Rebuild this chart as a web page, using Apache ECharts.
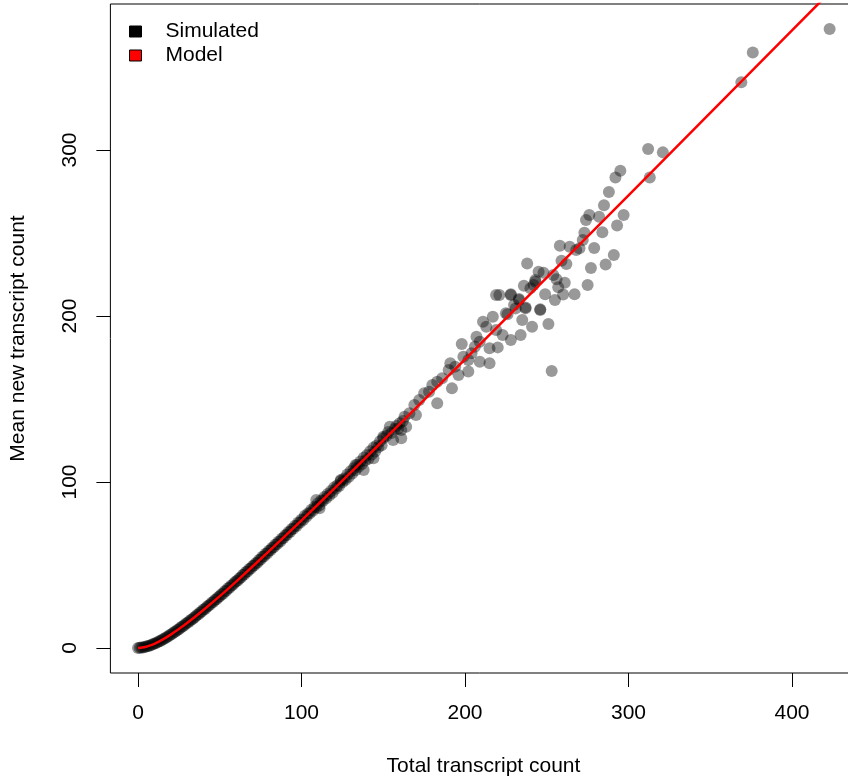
<!DOCTYPE html>
<html>
<head>
<meta charset="utf-8">
<script src="https://cdn.jsdelivr.net/npm/echarts@6/dist/echarts.min.js"></script>
<style>
  html, body { margin: 0; padding: 0; background: #fff; }
  #chart { width: 848px; height: 778px; }
</style>
</head>
<body>
<div id="chart"></div>
<script>
// simulated points, dense part along the curve (total count, mean new count)
var simulatedBand = [
  [0,0],[1,0.1],[2,0.3],[3,0.2],[4,0.6],[5,0.8],[6,1.1],[7,1.3],[8,1.7],[9,2.2],[10,2.6],[11,2.9],[12,3.5],[13,4.0],[14,4.4],
  [15,5.1],[16,5.5],[17,6.2],[18,6.8],[19,7.3],[20,8.1],[21,8.6],[22,9.4],[23,9.9],[24,10.8],[25,11.2],[26,12.1],[27,12.9],
  [28,13.4],[29,14.4],[30,15.1],[31,15.6],[32,16.7],[33,17.2],[34,18.1],[35,18.8],[36,19.8],[37,20.3],[38,21.4],[39,21.9],
  [40,23.1],[41,23.5],[42,24.6],[43,25.4],[44,26.0],[45,27.3],[46,27.7],[47,28.9],[48,29.3],[49,30.6],[50,31.1],[51,32.4],
  [52,32.7],[53,34.1],[54,34.5],[55,35.9],[56,36.2],[57,37.6],[58,38.0],[59,39.3],[60,40.2],[61,40.7],[62,42.0],[63,42.4],
  [64,43.9],[65,44.2],[66,45.7],[67,46.0],[68,47.5],[69,47.8],[70,49.3],[71,49.7],[72,51.1],[73,51.4],[74,53.0],[75,53.3],
  [76,54.9],[77,55.1],[78,56.7],[79,56.9],[80,58.5],[81,58.8],[82,60.4],[83,60.6],[84,62.3],[85,62.5],[86,64.2],[87,64.2],
  [88,66.0],[89,66.3],[90,67.9],[91,68.0],[92,69.8],[93,69.9],[94,71.7],[95,71.8],[96,73.6],[97,73.4],[98,75.6],[99,75.5],
  [100,77.4],[101,77.1],[102,79.6],[103,79.0],[104,81.2],[105,81.0],[106,83.3],[107,82.6],[108,85.1],[109,84.6],[110,87.2],
  [111,86.0],[112,88.9],[113,88.5],[114,90.9],[115,90.0],[116,92.7],[117,91.8],[118,94.6],[119,93.5],[120,96.8],[121,95.9],
  [122,98.0],[123,97.5],[124,100.6],[125,99.8],[126,102.1],[127,101.3],[128,104.5],[129,103.2],[130,106.5],[131,105.1],
  [132,108.2],[133,107.0],[134,110.3],[135,109.2],[136,112.4],[137,110.8],[138,114.6],[139,112.9],[140,116.2],[141,114.0],
  [142,118.5],[143,116.6],[144,120.7],[145,118.4],[146,122.0],[147,120.9],[148,124.6],[149,122.1],[150,126.3],
  [152,127.8],[153,130.1],[155,129.5],[157,131.9],[158,133.8],[159,132.0],[160,135.4],[162,136.8],
  [154,133.3],[156,125.3],[150,127.3],[144,114.3],[138,107.2],[133,110.2],[124,101.2],[109,89.2],[111,84.1]
];

// simulated points, scattered upper part
var simulatedScatter = [
  [161,126.3],[161,131.3],[164,133.3],[163,139.3],[166,141.4],[170,140.4],[169,146.4],[172,149.4],[183,147.4],[175,153.4],
  [178,154.4],[180,158.4],[183,160.4],[192,156.4],[186,162.5],[196,164.5],[202,166.5],[190,167.5],[194,169.5],[191,171.5],
  [215,171.5],[209,172.5],[202,173.5],[199,175.5],[204,177.5],[206,181.5],[220,181.1],[215,180.5],[198,183.1],[209,184.5],
  [207,187.5],[228,185.5],[234,188.6],[223,188.6],[219,191.6],[213,193.6],[241,193.6],[251,195.2],[235,197.6],[211,196.6],
  [217,199.6],[246,203.6],[226,201.0],[231,204.6],[237,204.6],[233,209.6],[219,212.7],[228,212.7],[240,216.7],[243,220.7],
  [253,166.9],
  [423,372.9],[376,358.8],[369,340.8],[312,300.6],[321,298.6],[313,283.5],[295,287.5],[292,283.5],[288,274.7],[285,266.7],
  [297,260.8],[293,254.6],[276,260.8],[274,257.8],[282,259.8],[273,250.2],[284,250.4],[272,245.8],[279,241.0],[270,240.8],
  [264,241.8],[258,242.4],[268,239.8],[291,236.7],[286,231.1],[277,228.9],[259,233.3],[262,231.3],[238,231.7],[245,226.7],
  [248,226.1],[254,224.7],[256,222.1],[261,220.1],[275,218.7],[243,221.7],[236,218.3],[242,218.7],[257,217.3],[249,213.1],
  [260,212.9],[267,213.1],[255,209.6],[228,213.1],[233,210.2],[246,204.0],[237,205.2],[230,206.6],[225,201.6],[221,212.7]
];

// model curve
var modelX = [0, 2.5, 5, 7.5, 10, 15, 20, 25, 30, 40, 50, 60, 80, 100, 120, 150, 200, 250, 300, 350, 400, 440];
var modelY = [0, 0.2, 0.7, 1.5, 2.5, 5.0, 8.0, 11.4, 15.0, 22.9, 31.2, 40.0, 58.2, 76.9, 96.0, 125.0, 173.9, 223.2, 272.7, 322.4, 372.1, 411.9];

var xTicks = [0, 400, 100];
var yTicks = [0, 300, 100];

var FONT = '"Liberation Sans", Arial, sans-serif';
var chart = echarts.init(document.getElementById('chart'), null, {renderer: 'canvas'});

var modelData = modelX.map(function (x, i) { return [x, modelY[i]]; });
var simulated = simulatedBand.concat(simulatedScatter);

var option = {
    animation: false,
    backgroundColor: '#fff',
    textStyle: {fontFamily: FONT},
    legend: {
        left: 129,
        top: 21,
        padding: 0,
        orient: 'vertical',
        itemWidth: 12,
        itemHeight: 11,
        itemGap: 3,
        icon: 'rect',
        textStyle: {fontSize: 21, color: '#000', fontFamily: FONT, padding: [0, 0, 0, 19]},
        data: [
            {name: 'Simulated', itemStyle: {color: '#000', opacity: 1, borderColor: '#000', borderWidth: 1}},
            {name: 'Model', itemStyle: {color: '#ff0000', opacity: 1, borderColor: '#000', borderWidth: 1}}
        ]
    },
    grid: [
        // plot box (right edge falls outside the canvas)
        {left: 110.4, top: 4, width: 746.2, height: 669, outerBoundsMode: 'none', containLabel: false,
         show: true, borderColor: '#000', borderWidth: 1, backgroundColor: 'transparent'},
        // x tick axis (0..400)
        {left: 138, top: 4, width: 654, height: 669, outerBoundsMode: 'none', containLabel: false, show: false},
        // y tick axis (0..300)
        {left: 110.4, top: 150, width: 746.2, height: 498, outerBoundsMode: 'none', containLabel: false, show: false}
    ],
    xAxis: [
        {
            gridIndex: 0, type: 'value', min: -16.9, max: 439.5,
            axisLine: {show: false}, axisTick: {show: false}, axisLabel: {show: false}, splitLine: {show: false},
            name: 'Total transcript count', nameLocation: 'middle', nameGap: 83,
            nameTextStyle: {fontSize: 21, color: '#000', fontFamily: FONT}
        },
        {
            gridIndex: 1, type: 'value', min: xTicks[0], max: xTicks[1], interval: xTicks[2],
            axisLine: {show: false},
            axisTick: {show: true, inside: false, length: 14, lineStyle: {color: '#000', width: 1}},
            axisLabel: {fontSize: 21, color: '#000', margin: 30, fontFamily: FONT},
            splitLine: {show: false}
        },
        {gridIndex: 2, type: 'value', min: 0, max: 1, show: false}
    ],
    yAxis: [
        {
            gridIndex: 0, type: 'value', min: -15.1, max: 388,
            axisLine: {show: false}, axisTick: {show: false}, axisLabel: {show: false}, splitLine: {show: false},
            name: 'Mean new transcript count', nameLocation: 'middle', nameGap: 82,
            nameTextStyle: {fontSize: 21, color: '#000', fontFamily: FONT}
        },
        {gridIndex: 1, type: 'value', min: 0, max: 1, show: false},
        {
            gridIndex: 2, type: 'value', min: yTicks[0], max: yTicks[1], interval: yTicks[2],
            axisLine: {show: false},
            axisTick: {show: true, inside: false, length: 14, lineStyle: {color: '#000', width: 1}},
            axisLabel: {fontSize: 21, color: '#000', margin: 30, rotate: 90, fontFamily: FONT},
            splitLine: {show: false}
        }
    ],
    series: [
        {
            name: 'Simulated',
            type: 'scatter',
            xAxisIndex: 0, yAxisIndex: 0,
            symbol: 'circle',
            symbolSize: 12,
            itemStyle: {color: 'rgba(0,0,0,0.5)'},
            data: simulated
        },
        {
            name: 'Model',
            type: 'line',
            xAxisIndex: 0, yAxisIndex: 0,
            smooth: 0.3,
            showSymbol: false,
            clip: true,
            lineStyle: {color: '#ff0000', width: 2.5},
            itemStyle: {color: '#ff0000'},
            data: modelData
        }
    ]
};

chart.setOption(option);
</script>
</body>
</html>
